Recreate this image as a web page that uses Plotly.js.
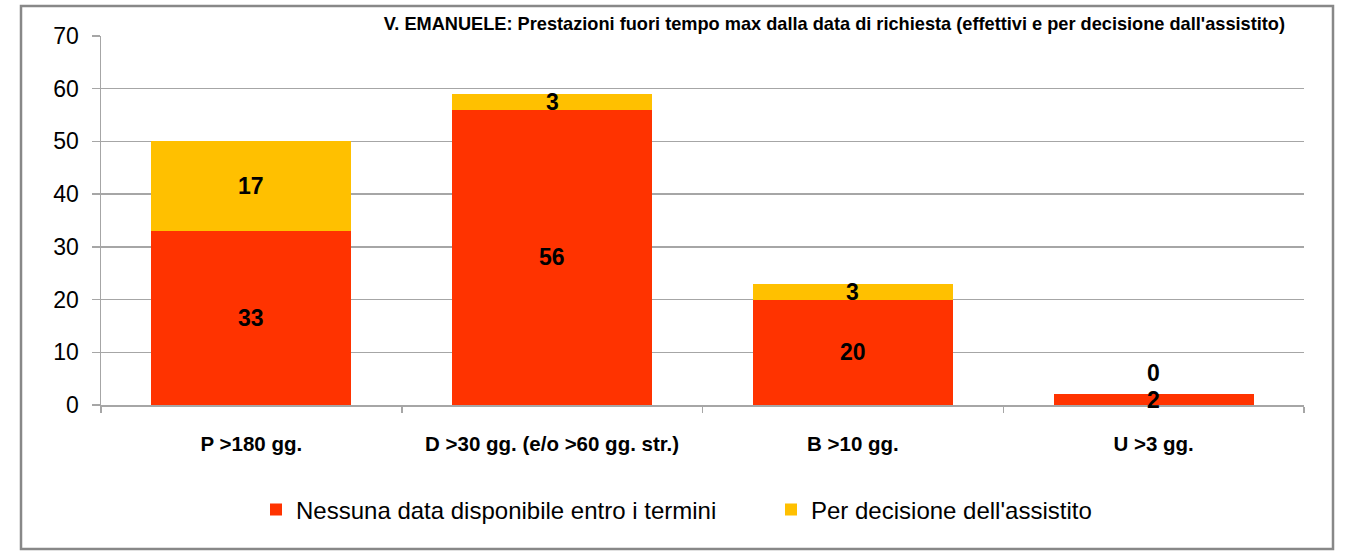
<!DOCTYPE html>
<html><head><meta charset="utf-8">
<script src="https://cdn.plot.ly/plotly-3.0.1.min.js"></script>
<style>html,body{margin:0;padding:0;background:#fff}</style>
</head><body>
<div id="chart" style="width:1345px;height:551px"></div>
<script>
var categories = ["P >180 gg.", "D >30 gg. (e/o >60 gg. str.)", "B >10 gg.", "U >3 gg."];
var nessunaData = [33, 56, 20, 2];
var decisioneAssistito = [17, 3, 3, 0];
var seriesNames = ["Nessuna data disponibile entro i termini", "Per decisione dell'assistito"];
var titleText = "V. EMANUELE: Prestazioni fuori tempo max dalla data di richiesta (effettivi e per decisione dall'assistito)";

var FONT = "Liberation Sans, Arial, sans-serif";
var gray = "#a6a6a6";

var traces = [
  {type:"bar", name:seriesNames[0], x:categories, y:nessunaData, marker:{color:"#ff3300"}, hoverinfo:"y"},
  {type:"bar", name:seriesNames[1], x:categories, y:decisioneAssistito, marker:{color:"#ffc000"}, hoverinfo:"y"}
];

var annotations = [];
categories.forEach(function(c, i){
  var a = nessunaData[i], b = decisioneAssistito[i];
  annotations.push({x:c, y:a/2, xref:"x", yref:"y", text:String(a), showarrow:false,
    font:{family:FONT, size:23, color:"#000", weight:"bold"}});
  annotations.push({x:c, y:a + b/2, xref:"x", yref:"y", text:String(b), showarrow:false,
    font:{family:FONT, size:23, color:"#000", weight:"bold"}, yshift: b === 0 ? 21 : 0});
});

var layout = {
  width:1345, height:551,
  margin:{l:101, r:41, t:36, b:146},
  paper_bgcolor:"#fff", plot_bgcolor:"#fff",
  font:{family:FONT, color:"#000"},
  title:{text:"<b>"+titleText+"</b>", xref:"container", yref:"container", x:1285/1345, xanchor:"right", y:1-24/551, yanchor:"middle",
    font:{family:FONT, size:18.2, color:"#000"}},
  barmode:"stack", bargap:0.335,
  showlegend:true,
  legend:{orientation:"h", xref:"container", yref:"container", x:256/1345, xanchor:"left", y:1-510/551, yanchor:"middle",
    font:{family:FONT, size:24, color:"#000"}, itemwidth:30, entrywidth:470, tracegroupgap:0, traceorder:"normal"},
  xaxis:{type:"category", showline:true, linecolor:gray, linewidth:1.5, ticks:"outside", tickson:"boundaries",
    ticklen:6, tickcolor:gray, tickwidth:1.5, showgrid:false, ticklabelstandoff:20,
    tickfont:{family:FONT, size:20.5, color:"#000", weight:"bold"}},
  yaxis:{range:[0,70], dtick:10, showline:true, linecolor:gray, linewidth:1.5, ticks:"outside", ticklen:8,
    tickcolor:gray, tickwidth:1.5, gridcolor:gray, gridwidth:1.5, zeroline:false,
    tickfont:{family:FONT, size:23, color:"#000"}, ticklabelstandoff:8},
  annotations:annotations,
  shapes:[{type:"rect", xref:"paper", yref:"paper", x0:(21-101)/1203, x1:(1333-101)/1203, y0:-144/369, y1:1+30/369,
    line:{color:"#888", width:2.5}, fillcolor:"rgba(0,0,0,0)", layer:"above"}]
};

Plotly.newPlot("chart", traces, layout, {displayModeBar:false, staticPlot:true});
</script>
</body></html>
